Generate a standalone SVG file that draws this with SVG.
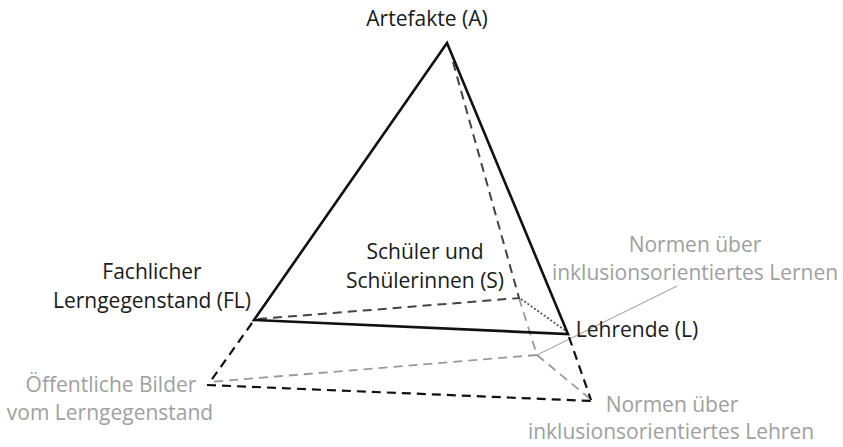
<svg xmlns="http://www.w3.org/2000/svg" width="843" height="447" viewBox="0 0 843 447">
<style>
.t{font-family:"Open Sans","Noto Sans","Liberation Sans",sans-serif;font-size:21px;text-anchor:middle}
.k{fill:#1a1a1a}
.g{fill:#a0a0a0}
.solid{stroke:#111;stroke-width:2.6;fill:none;stroke-linejoin:miter}
.bd{stroke:#111;stroke-width:2.2;stroke-dasharray:9 6;fill:none}
.dd{stroke:#444;stroke-width:2;stroke-dasharray:9 6;fill:none}
.gd{stroke:#999;stroke-width:1.8;stroke-dasharray:9 6;fill:none}
.dot{stroke:#555;stroke-width:1.8;stroke-dasharray:2 2;fill:none}
.lead{stroke:#aaa;stroke-width:1.2;fill:none}
</style>
<rect width="843" height="447" fill="#fff"/>
<g id="connectors">
  <line class="gd" x1="519" y1="298" x2="537" y2="355"/>
  <line class="gd" x1="537" y1="355" x2="210" y2="382"/>
  <line class="gd" x1="537" y1="355" x2="589" y2="398"/>
  <line class="lead" x1="537" y1="355" x2="677" y2="286"/>
  <line class="dd" x1="453" y1="62" x2="519" y2="298"/>
  <line class="dd" x1="258" y1="319" x2="520" y2="298"/>
  <line class="dot" x1="521" y1="299" x2="566" y2="331"/>
  <line class="bd" x1="252" y1="323" x2="210" y2="382"/>
  <line class="bd" x1="207" y1="385" x2="592" y2="401"/>
  <line class="bd" x1="569" y1="337" x2="591" y2="400"/>
  <polygon class="solid" points="447,43 254,320 568,334"/>
</g>
<g id="node-A"><text class="t k" x="427" y="26">Artefakte (A)</text></g>
<g id="node-S"><text class="t k" x="425" y="259">Schüler und</text><text class="t k" x="425" y="288">Schülerinnen (S)</text></g>
<g id="node-FL"><text class="t k" x="152" y="279">Fachlicher</text><text class="t k" x="152" y="308">Lerngegenstand (FL)</text></g>
<g id="node-L"><text class="t k" x="637" y="337">Lehrende (L)</text></g>
<g id="node-OB"><text class="t g" x="111" y="392">Öffentliche Bilder</text><text class="t g" x="110" y="420">vom Lerngegenstand</text></g>
<g id="node-NLernen"><text class="t g" x="695" y="252">Normen über</text><text class="t g" x="695" y="280">inklusionsorientiertes Lernen</text></g>
<g id="node-NLehren"><text class="t g" x="672" y="412">Normen über</text><text class="t g" x="671" y="439">inklusionsorientiertes Lehren</text></g>
</svg>
